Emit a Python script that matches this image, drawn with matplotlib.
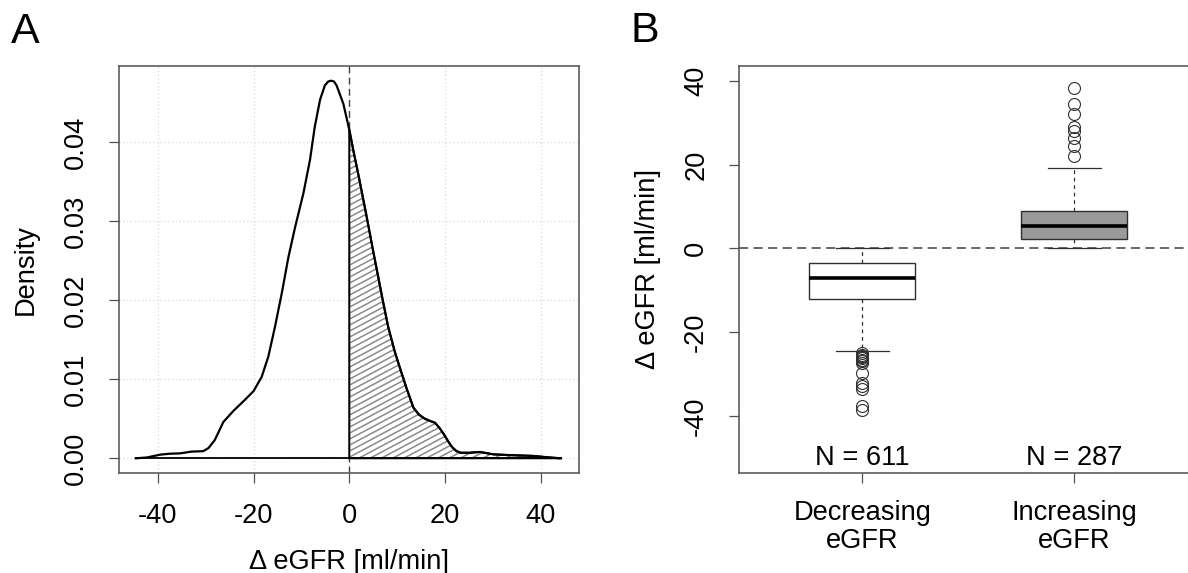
import numpy as np
import matplotlib
matplotlib.use("Agg")
import matplotlib.pyplot as plt
from matplotlib.patches import Polygon
from matplotlib.collections import LineCollection

plt.rcParams['font.family'] = ['Liberation Sans', 'DejaVu Sans']
plt.rcParams['axes.unicode_minus'] = False

# -------------------------
# Data
# -------------------------

# Panel A: kernel density of delta eGFR
dens_x = [-44.6, -42.3, -39.5, -37.5, -35.4, -32.9, -30.5, -29.4, -28.1, -26.3,
          -24.2, -21.8, -20.0, -18.3, -16.9, -15.5, -14.1, -12.7, -11.3, -9.6,
          -8.2, -7.2, -6.1, -5.1, -4.4, -3.8, -3.2, -2.65, -1.25, 0.0, 0.84, 2.0,
          3.5, 5.0, 7.0, 8.1, 9.5, 10.6, 12.0, 13.4, 14.6, 15.8,
          17.0, 17.9, 18.9, 19.8, 20.7, 21.5, 22.4, 23.3, 25.0, 27.3,
          30.1, 33.6, 38.4, 41.9, 44.2]
dens_y = [0.0, 0.0001, 0.00046, 0.00058, 0.00062, 0.00085, 0.0009, 0.0013, 0.0023, 0.0046,
          0.0060, 0.0074, 0.0085, 0.0103, 0.0129, 0.0167, 0.0209, 0.0255, 0.0293, 0.0335,
          0.0378, 0.0420, 0.0454, 0.0472, 0.0477, 0.0478, 0.0477, 0.0472, 0.0449, 0.0416, 0.0390, 0.0356,
          0.0310, 0.0262, 0.0200, 0.0167, 0.0135, 0.0114, 0.0088, 0.0064, 0.0055, 0.0050,
          0.0047, 0.0045, 0.0038, 0.0030, 0.0021, 0.0014, 0.0009, 0.0007, 0.0007, 0.0008,
          0.0005, 0.0004, 0.0003, 0.0001, 0.0]
dens_xticks = [-40, -20, 0, 20, 40]
dens_yticks = [0.00, 0.01, 0.02, 0.03, 0.04]

# Panel B: boxplots
groups = ["Decreasing\neGFR", "Increasing\neGFR"]
group_n = [611, 287]
whis_lo = [-24.5, 0.0]
q1 = [-12.1, 2.1]
med = [-7.2, 5.2]
q3 = [-3.6, 8.9]
whis_hi = [0.0, 19.2]
fliers_dec = [-25.1, -25.4, -25.7, -26.0, -26.2, -26.6, -26.9, -27.4, -29.7,
              -32.1, -32.9, -33.7, -37.6, -38.6]
fliers_inc = [22.1, 24.5, 26.3, 28.1, 29.0, 32.0, 34.4, 38.3]
box_fill = ["white", "#9a9a9a"]
box_yticks = [-40, -20, 0, 20, 40]

# -------------------------
# Figure layout
# -------------------------

W, H = 1188, 573
fig = plt.figure(figsize=(W / 100, H / 100), dpi=100)

def px_axes(left, top, right, bottom):
    return fig.add_axes([left / W, 1 - bottom / H, (right - left) / W, (bottom - top) / H])

axA = px_axes(119, 65.7, 578.6, 473.3)
axB = px_axes(739, 65.7, 1197.7, 472.7)

frame_col = "#505050"
tick_fs = 19.6

for ax in (axA, axB):
    for sp in ax.spines.values():
        sp.set_color(frame_col)
        sp.set_linewidth(1.1)
    ax.tick_params(length=7.5, width=0.9, color=frame_col, labelsize=tick_fs,
                   labelcolor="black")

# -------------------------
# Panel A
# -------------------------

axA.set_xlim(-48.1, 47.9)
axA.set_ylim(-0.0019, 0.0497)
axA.set_xticks(dens_xticks)
axA.set_yticks(dens_yticks)
axA.set_yticklabels(["%.2f" % v for v in dens_yticks], rotation=90, va="center")
axA.tick_params(axis="x", pad=14)
axA.tick_params(axis="y", pad=14)

for v in dens_xticks:
    axA.axvline(v, color="#d8d8d8", lw=0.9, ls=(0, (1, 2)), zorder=0)
for v in dens_yticks:
    axA.axhline(v, color="#d8d8d8", lw=0.9, ls=(0, (1, 2)), zorder=0)

axA.axvline(0, color="#404040", lw=1.0, ls=(0, (5, 3)), zorder=1)

dx = np.array(dens_x)
dy = np.array(dens_y)

# hatched region for increasing eGFR
pos = dx >= 0
hx = np.concatenate([[0.0], dx[pos], [dx[-1]]])
hy = np.concatenate([[0.0], dy[pos], [0.0]])
poly = Polygon(np.column_stack([hx, hy]), closed=True, facecolor="none",
               edgecolor="black", lw=1.4, zorder=3)
axA.add_patch(poly)

# hatch lines built in pixel space, clipped to the polygon
wpx, hpx = 459.6, 407.6
ang = np.deg2rad(28)
step = 6.0
segs = []
for c in np.arange(-wpx * np.tan(ang), hpx, step):
    segs.append([(0, c / hpx), (1, (c + wpx * np.tan(ang)) / hpx)])
hatch = LineCollection(segs, colors="#8a8a8a", linewidths=1.1,
                       transform=axA.transAxes, zorder=2)
axA.add_collection(hatch)
hatch.set_clip_path(poly)

axA.plot(dx, dy, color="black", lw=1.6, zorder=4, solid_joinstyle="round")
axA.plot([dx[0], dx[-1]], [0, 0], color="black", lw=1.3, zorder=4)

axA.set_xlabel("\u0394 eGFR [ml/min]", fontsize=tick_fs, va="center")
axA.xaxis.set_label_coords(0.5, (473.3 - 561.7) / 407.6)
axA.set_ylabel("Density", fontsize=tick_fs, va="center")
axA.yaxis.set_label_coords((26 - 119) / 459.6, 0.5)

# -------------------------
# Panel B
# -------------------------

fliers = [fliers_dec, fliers_inc]
stats = []
for i in range(len(groups)):
    stats.append(dict(whislo=whis_lo[i], q1=q1[i], med=med[i], q3=q3[i],
                      whishi=whis_hi[i], fliers=fliers[i]))

axB.axhline(0, color="#404040", lw=1.1, ls=(0, (6, 3.5)), zorder=1)

bp = axB.bxp(stats, positions=[1, 2], widths=0.5, capwidths=0.25,
             patch_artist=True, showfliers=True,
             boxprops=dict(edgecolor="#303030", linewidth=1.0),
             medianprops=dict(color="black", linewidth=2.6),
             whiskerprops=dict(color="#303030", linewidth=0.9, linestyle=(0, (3, 3))),
             capprops=dict(color="#303030", linewidth=0.9),
             flierprops=dict(marker="o", markersize=8.6, markerfacecolor="none",
                             markeredgecolor="#303030", markeredgewidth=0.8))
for patch, col in zip(bp["boxes"], box_fill):
    patch.set_facecolor(col)
    patch.set_zorder(2)

axB.set_xlim(0.418, 2.582)
axB.set_ylim(-53.6, 43.6)
axB.set_yticks(box_yticks)
axB.set_yticklabels([str(v) for v in box_yticks], rotation=90, va="center")
axB.set_xticks([1, 2])
axB.set_xticklabels(groups, linespacing=1.12)
axB.tick_params(axis="x", pad=12)
axB.tick_params(axis="y", pad=14)

for i, n in enumerate(group_n):
    axB.text(i + 1, -50, "N = %d" % n, ha="center", va="center", fontsize=tick_fs)

axB.set_ylabel("\u0394 eGFR [ml/min]", fontsize=tick_fs, va="center")
axB.yaxis.set_label_coords((648.3 - 739) / 458.7, 0.5)

# panel letters
fig.text(25 / W, 1 - 31.7 / H, "A", ha="center", va="center", fontsize=31)
fig.text(645 / W, 1 - 31.3 / H, "B", ha="center", va="center", fontsize=31)

fig.savefig("out.png", dpi=100)
